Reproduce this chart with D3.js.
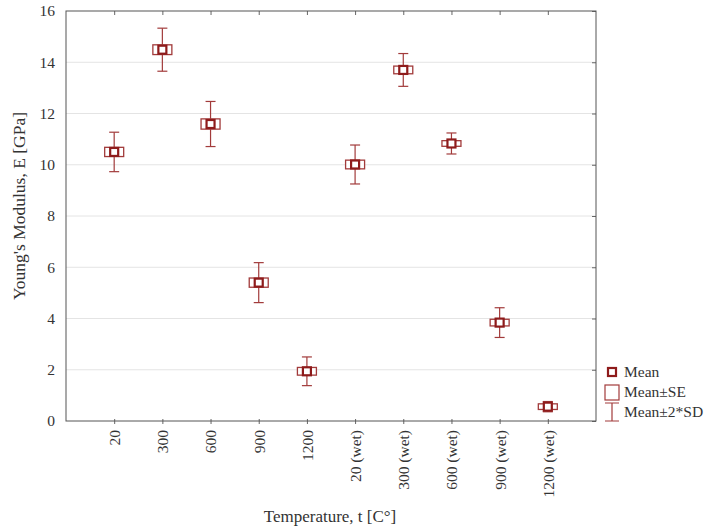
<!DOCTYPE html>
<html lang="en">
<head>
    <meta charset="UTF-8">
    <title>Young's Modulus vs Temperature</title>
    <script src="https://d3js.org/d3.v7.min.js"></script>
    <style>
        body { margin: 0; background: #fff; font-family: "Liberation Serif", "DejaVu Serif", serif; }
        svg { display: block; }
    </style>
</head>
<body>
    <svg width="711" height="531"></svg>

    <script>
        // Data
        const categories = ["20", "300", "600", "900", "1200", "20 (wet)", "300 (wet)", "600 (wet)", "900 (wet)", "1200 (wet)"];
        const means   = [10.50, 14.49, 11.59, 5.40, 1.94, 10.01, 13.70, 10.83, 3.84, 0.56];
        const se      = [0.18, 0.19, 0.20, 0.18, 0.15, 0.17, 0.15, 0.11, 0.13, 0.11];
        const sd2     = [0.77, 0.84, 0.88, 0.78, 0.56, 0.76, 0.64, 0.41, 0.58, 0.20];
        const yTicks  = [0, 2, 4, 6, 8, 10, 12, 14, 16];

        const svg = d3.select("svg");
        const frame = {left: 66, right: 596, top: 11, bottom: 421};
        const red = "#a23b3b", darkRed = "#8e1b1b";

        const x = d3.scalePoint().domain(categories).range([frame.left, frame.right]).padding(1);
        const y = d3.scaleLinear().domain([0, 16]).range([frame.bottom, frame.top]);

        // grid
        svg.append("g").selectAll("line").data(yTicks.slice(1, -1)).join("line")
            .attr("x1", frame.left).attr("x2", frame.right)
            .attr("y1", d => y(d)).attr("y2", d => y(d))
            .attr("stroke", "#e4e4e4").attr("stroke-width", 1);

        // axes
        const axisFont = g => g.selectAll("text")
            .attr("font-family", "'Liberation Serif', 'DejaVu Serif', serif")
            .attr("font-size", 15.5).attr("fill", "#333");

        svg.append("g").attr("transform", `translate(${frame.left},0)`)
            .call(d3.axisLeft(y).tickValues(yTicks).tickSize(0).tickPadding(11))
            .call(g => g.select(".domain").remove())
            .call(axisFont);

        svg.append("g").attr("transform", `translate(${frame.right},0)`)
            .call(d3.axisLeft(y).tickValues(yTicks).tickSize(4).tickFormat(""))
            .call(g => g.select(".domain").remove())
            .call(g => g.selectAll("line").attr("stroke", "#666"));

        svg.append("g").attr("transform", `translate(0,${frame.top})`)
            .call(d3.axisBottom(x).tickSize(4).tickFormat(""))
            .call(g => g.select(".domain").remove())
            .call(g => g.selectAll("line").attr("stroke", "#666"));

        const xAxis = svg.append("g").attr("transform", `translate(0,${frame.bottom})`)
            .call(d3.axisBottom(x).tickSize(4).tickPadding(8))
            .call(g => g.select(".domain").remove())
            .call(g => g.selectAll("line").attr("stroke", "#666").attr("y1", -2).attr("y2", 3))
            .call(axisFont);
        xAxis.selectAll("text")
            .attr("transform", "rotate(-90)")
            .attr("text-anchor", "end")
            .attr("dy", "0.35em")
            .attr("x", -9).attr("y", 0);

        // frame
        svg.append("rect")
            .attr("x", frame.left).attr("y", frame.top)
            .attr("width", frame.right - frame.left).attr("height", frame.bottom - frame.top)
            .attr("fill", "none").attr("stroke", "#555").attr("stroke-width", 1);

        // marks
        const data = categories.map((c, i) => ({c, m: means[i], se: se[i], sd: sd2[i]}));
        const bw = 19, cap = 10, mk = 8;
        const pts = svg.append("g").selectAll("g").data(data).join("g")
            .attr("transform", d => `translate(${x(d.c)},0)`);

        pts.append("line")
            .attr("y1", d => y(d.m + d.sd)).attr("y2", d => y(d.m - d.sd))
            .attr("stroke", red).attr("stroke-width", 1.2);
        pts.append("line").attr("x1", -cap / 2).attr("x2", cap / 2)
            .attr("y1", d => y(d.m + d.sd)).attr("y2", d => y(d.m + d.sd))
            .attr("stroke", red).attr("stroke-width", 1.2);
        pts.append("line").attr("x1", -cap / 2).attr("x2", cap / 2)
            .attr("y1", d => y(d.m - d.sd)).attr("y2", d => y(d.m - d.sd))
            .attr("stroke", red).attr("stroke-width", 1.2);
        pts.append("rect")
            .attr("x", -bw / 2).attr("width", bw)
            .attr("y", d => y(d.m + d.se)).attr("height", d => y(d.m - d.se) - y(d.m + d.se))
            .attr("fill", "#fff").attr("stroke", red).attr("stroke-width", 1.3);
        pts.append("rect")
            .attr("x", -mk / 2).attr("width", mk)
            .attr("y", d => y(d.m) - mk / 2).attr("height", mk)
            .attr("fill", "#fff").attr("stroke", darkRed).attr("stroke-width", 2.2);

        // axis titles
        svg.append("text")
            .attr("x", 330).attr("y", 522)
            .attr("text-anchor", "middle").attr("font-size", 17).attr("fill", "#333")
            .text("Temperature, t [C°]");
        svg.append("text")
            .attr("transform", "translate(25,206) rotate(-90)")
            .attr("text-anchor", "middle").attr("font-size", 17.5).attr("fill", "#333")
            .text("Young's Modulus, E [GPa]");

        // legend
        const lg = svg.append("g").attr("font-size", 15.5).attr("fill", "#333");
        lg.append("rect").attr("x", 608).attr("y", 368).attr("width", mk).attr("height", mk)
            .attr("fill", "#fff").attr("stroke", darkRed).attr("stroke-width", 2.2);
        lg.append("text").attr("x", 624).attr("y", 377).text("Mean");
        lg.append("rect").attr("x", 605).attr("y", 385).attr("width", 14).attr("height", 15)
            .attr("fill", "#fff").attr("stroke", red).attr("stroke-width", 1.2);
        lg.append("text").attr("x", 624).attr("y", 397).text("Mean±SE");
        lg.append("path").attr("d", "M605,403H619M612,403V421M605,421H619")
            .attr("fill", "none").attr("stroke", red).attr("stroke-width", 1.2);
        lg.append("text").attr("x", 624).attr("y", 417).text("Mean±2*SD");
    </script>
</body>
</html>
